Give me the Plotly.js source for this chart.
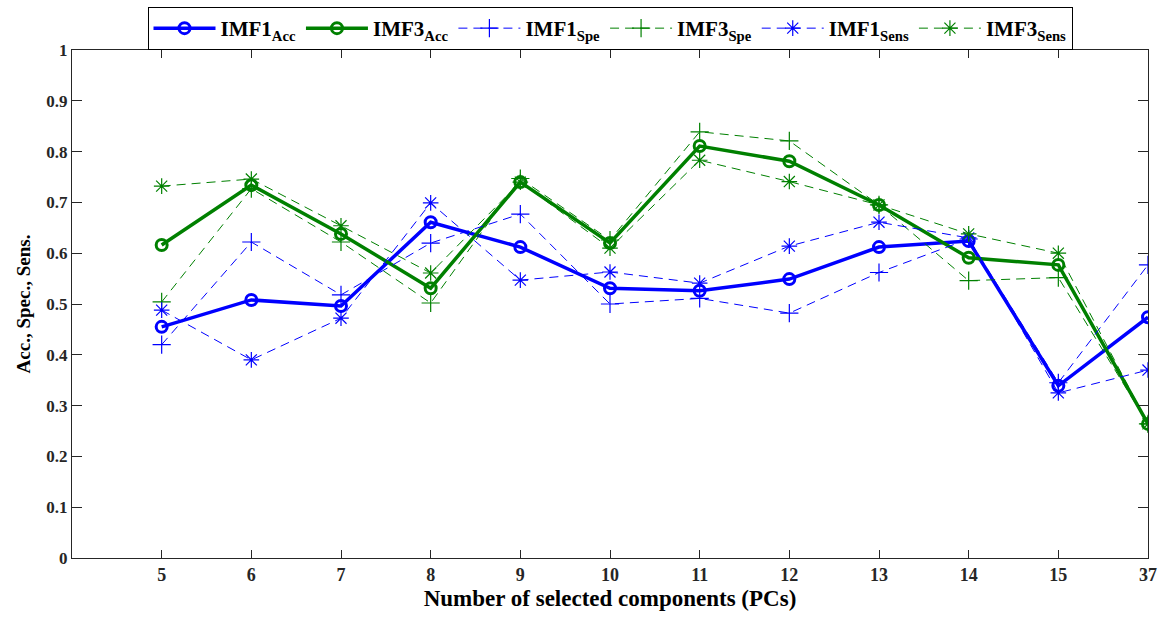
<!DOCTYPE html>
<html>
<head>
<meta charset="utf-8">
<script src="https://cdn.plot.ly/plotly-3.0.1.min.js"></script>
<style>
  html, body { margin: 0; padding: 0; background: #fff; }
  #chart { width: 1165px; height: 622px; }
</style>
</head>
<body>
<div id="chart"></div>
<script>
// Number of selected principal components (shown as evenly spaced categories)
const components = ['5', '6', '7', '8', '9', '10', '11', '12', '13', '14', '15', '37'];
const yTicks = [0, 0.1, 0.2, 0.3, 0.4, 0.5, 0.6, 0.7, 0.8, 0.9, 1];

// Accuracy
const imf1Acc = [0.455, 0.508, 0.496, 0.661, 0.612, 0.531, 0.526, 0.549, 0.612, 0.624, 0.339, 0.474];
const imf3Acc = [0.616, 0.734, 0.638, 0.531, 0.740, 0.620, 0.811, 0.781, 0.695, 0.591, 0.577, 0.264];
// Specificity
const imf1Spe = [0.420, 0.622, 0.518, 0.620, 0.677, 0.500, 0.511, 0.482, 0.562, 0.628, 0.345, 0.577];
const imf3Spe = [0.504, 0.727, 0.622, 0.502, 0.747, 0.626, 0.839, 0.821, 0.695, 0.546, 0.552, 0.264];
// Sensitivity
const imf1Sens = [0.488, 0.390, 0.472, 0.699, 0.547, 0.563, 0.541, 0.614, 0.661, 0.630, 0.325, 0.370];
const imf3Sens = [0.732, 0.746, 0.654, 0.561, 0.740, 0.610, 0.783, 0.741, 0.695, 0.638, 0.600, 0.264];

const BLUE = '#0000ff';
const GREEN = '#008000';
const DASH = '9px,6px';
const FONT = 'Liberation Serif, Times New Roman, serif';

function solid(name, y, color) {
  return {
    x: components, y: y, name: name, type: 'scatter', mode: 'lines+markers',
    line: { color: color, width: 3.5 },
    marker: { symbol: 'circle-open', size: 11, color: color, line: { color: color, width: 3 } }
  };
}
function dashed(name, y, color, symbol) {
  return {
    x: components, y: y, name: name, type: 'scatter', mode: 'lines+markers',
    line: { color: color, width: 1, dash: DASH },
    marker: { symbol: symbol, size: 13, color: color, line: { color: color, width: 1.2 } }
  };
}

const traces = [
  solid('IMF1<sub>Acc</sub>', imf1Acc, BLUE),
  solid('IMF3<sub>Acc</sub>', imf3Acc, GREEN),
  dashed('IMF1<sub>Spe</sub>', imf1Spe, BLUE, 'cross-thin-open'),
  dashed('IMF3<sub>Spe</sub>', imf3Spe, GREEN, 'cross-thin-open'),
  dashed('IMF1<sub>Sens</sub>', imf1Sens, BLUE, 'asterisk-open'),
  dashed('IMF3<sub>Sens</sub>', imf3Sens, GREEN, 'asterisk-open')
];

const layout = {
  width: 1165, height: 622,
  margin: { l: 72, r: 17, t: 50, b: 64, autoexpand: false },
  paper_bgcolor: '#fff', plot_bgcolor: '#fff',
  font: { family: FONT, color: '#000', size: 17 },
  showlegend: true,
  legend: {
    orientation: 'h', x: 0.5, xanchor: 'center', y: 1.0, yanchor: 'bottom',
    bordercolor: '#000', borderwidth: 1, bgcolor: '#fff',
    font: { family: FONT, size: 21, color: '#000', weight: 'bold' },
    itemwidth: 62, tracegroupgap: 0
  },
  xaxis: {
    type: 'category', categoryorder: 'array', categoryarray: components,
    range: [-1, 11],
    showgrid: false, zeroline: false,
    showline: true, linecolor: '#262626', linewidth: 1, mirror: 'ticks',
    ticks: 'inside', ticklen: 8, tickcolor: '#262626',
    tickfont: { family: FONT, size: 18, weight: 'bold', color: '#262626' },
    title: { text: 'Number of selected components (PCs)', standoff: 6,
             font: { family: FONT, size: 23, weight: 'bold' } }
  },
  yaxis: {
    range: [0, 1], tickvals: yTicks, ticktext: yTicks.map(String),
    showgrid: false, zeroline: false,
    showline: true, linecolor: '#262626', linewidth: 1, mirror: 'ticks',
    ticks: 'inside', ticklen: 10, tickcolor: '#262626',
    tickfont: { family: FONT, size: 17, weight: 'bold', color: '#262626' },
    title: { text: 'Acc., Spec., Sens.', standoff: 10,
             font: { family: FONT, size: 19, weight: 'bold' } }
  }
};

Plotly.newPlot('chart', traces, layout, { displayModeBar: false, staticPlot: true });
</script>
</body>
</html>
